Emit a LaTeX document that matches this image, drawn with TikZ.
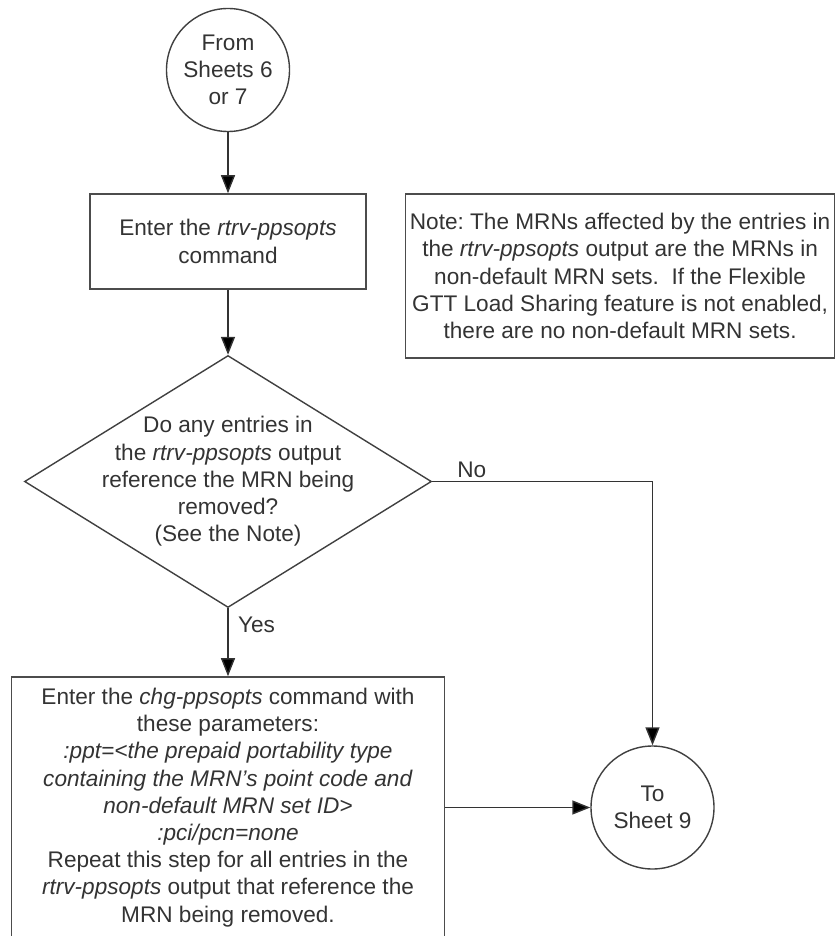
\documentclass[tikz,border=0pt]{standalone}
\usepackage{fontspec}
\setmainfont{Liberation Sans}
\frenchspacing
\usetikzlibrary{positioning,arrows.meta,shapes.geometric}
\tikzset{
  spoj/.style={circle,draw=black!75,line width=1.4pt,minimum size=123pt,inner sep=1pt,align=center,text=black!80},
  krok/.style={rectangle,draw=black!70,line width=1.6pt,inner sep=4pt,align=center,text=black!80},
  rozhod/.style={diamond,draw=black!75,line width=1.4pt,minimum width=407pt,minimum height=252pt,inner sep=0pt},
  popis/.style={align=center,text=black!80},
  sip/.style={-{Triangle[length=18pt,width=14pt,fill=black]},draw=black!80,line width=1.4pt},
}
\begin{document}
\begin{tikzpicture}[x=1pt,y=1pt,font=\fontsize{22.6}{27.2}\selectfont]
  \useasboundingbox (0,0) rectangle (835,-936);
  \node[spoj] (od) at (228,-70) {From\\Sheets 6\\or 7};
  \node[krok,minimum width=276pt,minimum height=95pt] (k1) [below=61pt of od] {Enter the \textit{rtrv-ppsopts}\\command};
  \node[krok,minimum width=429pt,minimum height=164pt] (pz) [right=38pt of k1.north east,anchor=north west]
    {Note: The MRNs affected by the entries in\\the \textit{rtrv-ppsopts} output are the MRNs in\\non-default MRN sets.~ If the Flexible\\GTT Load Sharing feature is not enabled,\\there are no non-default MRN sets.};
  \node[rozhod] (ot) [below=65pt of k1] {};
  \node[popis] (otx) at (ot) {Do any entries in\\the \textit{rtrv-ppsopts} output\\reference the MRN being\\removed?\\(See the Note)};
  \node[krok,minimum width=433pt,minimum height=261pt] (k2) [below=68pt of ot]
    {Enter the \textit{chg-ppsopts} command with\\these parameters:\\\textit{:ppt=<the prepaid portability type}\\\textit{containing the MRN’s point code and}\\\textit{non-default MRN set ID>}\\\textit{:pci/pcn=none}\\Repeat this step for all entries in the\\\textit{rtrv-ppsopts} output that reference the\\MRN being removed.};
  \node[spoj] (na) [right=145pt of k2] {To\\Sheet 9};
  \draw[sip] (od)--(k1);
  \draw[sip] (k1)--(ot);
  \draw[sip] (ot.south)--(k2) node[pos=0.24,right=6pt,text=black!80]{Yes};
  \draw[sip] (ot.east)-|(na.north) node[pos=0.09,above,text=black!80]{No};
  \draw[sip] (k2)--(na);
\end{tikzpicture}
\end{document}
